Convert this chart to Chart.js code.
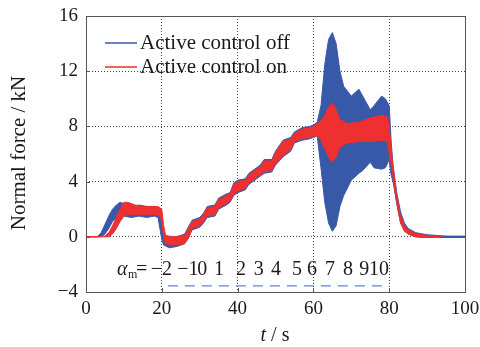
<!DOCTYPE html>
<html lang="en">
  <head>
    <meta charset="UTF-8" />
    <title>Normal force</title>
    <script src="https://cdn.jsdelivr.net/npm/chart.js"></script>
    <style>
      body { margin: 0; background: #fff; }
      #wrap { width: 480px; height: 347px; }
    </style>
  </head>
  <body>
    <div id="wrap"><canvas id="forceChart" width="480" height="347"></canvas></div>
    <script>
      // envelope of the "off" signal (upper / lower), kN
      const offTime = [0, 3, 4, 5, 6, 7, 8, 9, 10, 12, 14, 16, 18, 19, 19.5, 20, 20.5, 22, 24, 26, 27, 28, 30, 31, 32, 34, 35, 37, 38, 39, 40, 42, 43, 45, 46, 47, 49, 50, 52, 54, 55, 57, 59, 60, 61, 62, 63, 64, 65, 66, 67, 68, 70, 72, 73, 75, 76, 78, 79, 80, 80.5, 81, 82, 83, 84, 85, 87, 90, 95, 100];
      const offHigh = [0, 0, 0.3, 0.9, 1.5, 2.0, 2.3, 2.5, 2.4, 2.2, 2.3, 2.2, 2.2, 2.1, 1.8, 0.8, 0.0, -0.1, 0.0, 0.2, 0.7, 1.2, 1.4, 1.7, 2.2, 2.3, 2.8, 3.1, 3.2, 3.9, 4.1, 4.2, 4.6, 5.0, 5.2, 5.6, 5.6, 6.2, 7.0, 7.2, 7.6, 7.9, 8.0, 8.1, 8.3, 9.5, 12.5, 14.3, 14.8, 14.0, 12.0, 10.9, 10.2, 10.7, 10.2, 9.2, 9.5, 10.2, 10.0, 9.5, 7.0, 5.2, 3.2, 1.8, 1.0, 0.6, 0.3, 0.15, 0.05, 0.05];
      const offLow = [0, 0, 0, 0.2, 0.6, 1.1, 1.4, 1.5, 1.5, 1.4, 1.5, 1.4, 1.5, 1.4, 0.6, -0.2, -0.6, -0.8, -0.7, -0.5, -0.1, 0.5, 0.7, 1.0, 1.4, 1.5, 2.0, 2.3, 2.5, 3.0, 3.2, 3.4, 3.8, 4.2, 4.4, 4.6, 4.7, 5.2, 5.8, 6.2, 6.8, 7.0, 7.1, 7.2, 7.3, 5.0, 2.5, 1.0, 0.4, 0.8, 2.2, 3.0, 4.1, 4.6, 4.8, 5.4, 5.0, 4.9, 5.0, 5.6, 4.5, 4.0, 2.4, 1.0, 0.5, 0.2, 0.0, -0.05, -0.05, -0.05];

      // envelope of the "on" signal (upper / lower), kN
      const onTime = [0, 5, 6, 7, 8, 9, 10, 11, 13, 15, 17, 19, 20, 20.5, 21, 23, 26, 27, 28, 30, 31, 32, 34, 35, 37, 38, 39, 40, 42, 43, 45, 46, 47, 49, 50, 52, 54, 55, 57, 59, 60, 61, 62, 63, 64, 65, 66, 67, 69, 72, 75, 78, 79.5, 80, 80.7, 82, 83, 84, 85, 87, 90, 94];
      const onHigh = [0, 0.05, 0.3, 0.8, 1.4, 2.0, 2.5, 2.5, 2.3, 2.2, 2.2, 2.2, 2.0, 0.8, 0.1, 0.0, 0.1, 0.6, 1.1, 1.3, 1.6, 2.1, 2.2, 2.7, 3.0, 3.1, 3.8, 4.0, 4.1, 4.5, 4.9, 5.1, 5.5, 5.5, 6.1, 6.9, 7.1, 7.5, 7.8, 7.9, 8.0, 8.2, 8.4, 8.8, 9.4, 9.7, 9.2, 8.5, 8.2, 8.3, 8.6, 8.8, 8.7, 8.0, 5.8, 3.0, 1.5, 0.8, 0.5, 0.25, 0.1, 0.02];
      const onLow = [0, 0, 0, 0.2, 0.6, 1.1, 1.5, 1.6, 1.6, 1.6, 1.6, 1.6, 1.2, -0.1, -0.5, -0.6, -0.5, -0.1, 0.6, 0.8, 1.1, 1.5, 1.6, 2.1, 2.4, 2.6, 3.1, 3.3, 3.5, 3.9, 4.3, 4.5, 4.7, 4.8, 5.3, 5.9, 6.3, 6.9, 7.1, 7.2, 7.3, 7.3, 7.0, 6.4, 5.8, 5.4, 5.8, 6.5, 6.8, 6.9, 6.9, 7.0, 6.9, 6.0, 5.0, 2.4, 1.0, 0.4, 0.2, 0.0, -0.05, -0.02];

      // alpha_m schedule shown under the curves
      const alphaValues = ["−2", "−1", "0", "1", "2", "3", "4", "5", "6", "7", "8", "9", "10"];
      const alphaTimes = [19.9, 26.9, 30.7, 35.1, 40.9, 45.6, 50.1, 55.7, 59.6, 64.4, 69.1, 73.4, 77.3];
      const alphaLineT = [21.6, 80];
      const alphaLineY = [-3.56, -3.56];

      const legendLabels = ["Active control off", "Active control on"];
      const xTicks = [0, 20, 40, 60, 80, 100];
      const yTicks = [-4, 0, 4, 8, 12, 16];

      const BLUE = "#3858a8";
      const RED = "#ee3030";
      const SERIF = "'Liberation Serif', 'DejaVu Serif', serif";

      const pts = (t, v) => t.map((x, i) => ({ x: x, y: v[i] }));

      const decorations = {
        id: "decorations",
        afterDraw(chart) {
          const { ctx, chartArea: a, scales } = chart;
          const xs = scales.x, ys = scales.y;
          ctx.save();
          // frame
          ctx.strokeStyle = "#555";
          ctx.lineWidth = 1;
          ctx.strokeRect(a.left + 0.5, a.top + 0.5, a.right - a.left, a.bottom - a.top);
          // inward ticks
          ctx.beginPath();
          xTicks.forEach((v) => {
            const px = Math.round(xs.getPixelForValue(v)) + 0.5;
            ctx.moveTo(px, a.bottom); ctx.lineTo(px, a.bottom - 4);
          });
          yTicks.forEach((v) => {
            const py = Math.round(ys.getPixelForValue(v)) + 0.5;
            ctx.moveTo(a.left, py); ctx.lineTo(a.left + 4, py);
          });
          ctx.stroke();

          // legend
          ctx.font = "21px " + SERIF;
          ctx.fillStyle = "#1a1a1a";
          ctx.textBaseline = "middle";
          [BLUE, RED].forEach((c, i) => {
            const y = 43 + i * 24;
            ctx.strokeStyle = c;
            ctx.lineWidth = 1.5;
            ctx.beginPath(); ctx.moveTo(105, y); ctx.lineTo(137, y); ctx.stroke();
            ctx.fillText(legendLabels[i], 140, y);
          });

          // alpha_m labels
          const ty = 270;
          ctx.font = "italic 20px " + SERIF;
          ctx.fillText("α", 117, ty);
          ctx.font = "12px " + SERIF;
          ctx.fillText("m", 128, ty + 5);
          ctx.font = "20px " + SERIF;
          ctx.fillText("=", 136, ty);
          ctx.textAlign = "center";
          alphaValues.forEach((s, i) => {
            ctx.fillText(s, xs.getPixelForValue(alphaTimes[i]), ty);
          });

          // axis titles
          ctx.textAlign = "left";
          const title = " / s";
          ctx.font = "20px " + SERIF;
          const wRest = ctx.measureText(title).width;
          ctx.font = "italic 20px " + SERIF;
          const wt = ctx.measureText("t").width;
          const x0 = 275 - (wt + wRest) / 2;
          ctx.fillText("t", x0, 336);
          ctx.font = "20px " + SERIF;
          ctx.fillText(title, x0 + wt, 336);

          ctx.font = "21px " + SERIF;
          ctx.translate(19, 153);
          ctx.rotate(-Math.PI / 2);
          ctx.textAlign = "center";
          ctx.fillText("Normal force / kN", 0, 0);
          ctx.restore();
        },
      };

      const gridColor = (edge) => (c) =>
        c.tick && edge.includes(c.tick.value) ? "rgba(0,0,0,0)" : "#444";

      new Chart(document.getElementById("forceChart"), {
        type: "line",
        data: {
          datasets: [
            { label: "on high", data: pts(onTime, onHigh), borderColor: RED, borderWidth: 1, fill: false },
            { label: "on low", data: pts(onTime, onLow), borderColor: RED, borderWidth: 1, backgroundColor: RED, fill: 0 },
            { label: "off high", data: pts(offTime, offHigh), borderColor: BLUE, borderWidth: 1, fill: false },
            { label: "off low", data: pts(offTime, offLow), borderColor: BLUE, borderWidth: 1, backgroundColor: BLUE, fill: 2 },
            { label: "alpha", data: pts(alphaLineT, alphaLineY), borderColor: "#6282d4", borderWidth: 1.3, borderDash: [10, 7], fill: false },
          ],
        },
        options: {
          responsive: false,
          animation: false,
          layout: { padding: { left: 0, top: 16, right: 15, bottom: 0 } },
          elements: { point: { radius: 0 }, line: { tension: 0 } },
          plugins: { legend: { display: false }, tooltip: { enabled: false } },
          scales: {
            x: {
              type: "linear",
              min: 0,
              max: 100,
              afterFit: (s) => { s.height = 55; s.paddingLeft = 0; s.paddingRight = 0; },
              afterBuildTicks: (s) => { s.ticks = xTicks.map((v) => ({ value: v })); },
              border: { display: false, dash: [1, 2] },
              grid: { color: gridColor([0, 100]), drawTicks: false },
              ticks: { color: "#1a1a1a", font: { family: SERIF, size: 19 }, padding: 6, maxRotation: 0 },
            },
            y: {
              min: -4,
              max: 16,
              afterFit: (s) => { s.width = 86; s.paddingTop = 0; s.paddingBottom = 0; },
              afterBuildTicks: (s) => { s.ticks = yTicks.map((v) => ({ value: v })); },
              border: { display: false, dash: [1, 2] },
              grid: { color: gridColor([-4, 16]), drawTicks: false },
              ticks: {
                color: "#1a1a1a",
                font: { family: SERIF, size: 19 },
                padding: 8,
                callback: (v) => String(v).replace("-", "−"),
              },
            },
          },
        },
        plugins: [decorations],
      });
    </script>
  </body>
</html>
